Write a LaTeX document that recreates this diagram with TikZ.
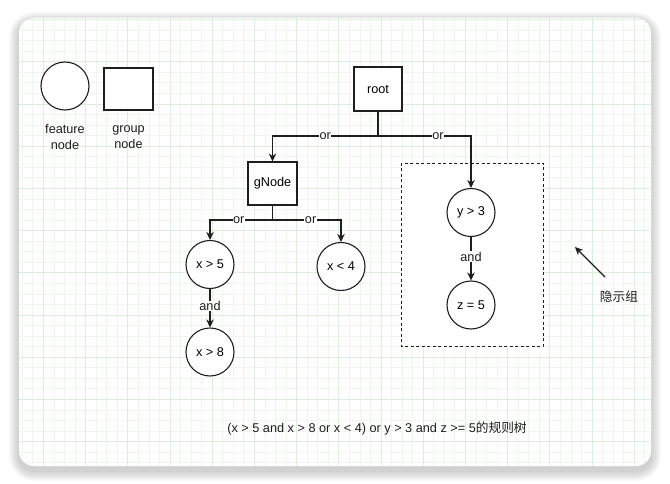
\documentclass[tikz,border=0pt]{standalone}
\usepackage{fontspec}
\setmainfont{Liberation Sans}
\newfontfamily\cjk{Noto Sans CJK SC}
\usetikzlibrary{arrows.meta}
\definecolor{gridminor}{RGB}{238,246,238}
\definecolor{gridmajor}{RGB}{222,238,222}
\definecolor{ink}{RGB}{30,30,30}
\tikzset{
  feat/.style={circle, draw=ink, line width=1.1pt, fill=white, minimum size=48pt, inner sep=0pt, font=\fontsize{12.7}{16}\selectfont},
  grp/.style={rectangle, draw=ink, line width=1.1pt, fill=white, minimum width=48pt, minimum height=44pt, inner sep=0pt, font=\fontsize{12.7}{16}\selectfont},
  edge/.style={draw=ink, line width=1.1pt, -{Stealth[length=8pt,width=7.5pt]}},
  elabel/.style={fill=white, inner sep=0.5pt, font=\fontsize{12.7}{16}\selectfont, text=ink},
  txt/.style={font=\fontsize{12.7}{16}\selectfont, text=ink, align=center},
}
\begin{document}
\begin{tikzpicture}[x=1pt,y=-1pt]
\useasboundingbox (0,0) rectangle (670,484);
% shadow
\foreach \i in {1,...,10} {
  \fill[black, opacity=0.018, rounded corners={15+\i}] ({19-\i},{18-\i+4}) rectangle ({651+\i},{466+\i+5});
}
\fill[white, rounded corners=15] (19,18) rectangle (651,466);
\begin{scope}
\clip[rounded corners=15] (19,18) rectangle (651,466);
\foreach \i in {0,...,64} {
  \draw[gridminor, line width=0.6pt] ({1.1+\i*10.55},0) -- ({1.1+\i*10.55},484);
}
\foreach \i in {-2,...,45} {
  \draw[gridminor, line width=0.6pt] (0,{19.5+\i*10.55}) -- (670,{19.5+\i*10.55});
}
\foreach \i in {0,...,16} {
  \draw[gridmajor, line width=0.6pt] ({1.1+\i*42.2},0) -- ({1.1+\i*42.2},484);
}
\foreach \i in {-1,...,11} {
  \draw[gridmajor, line width=0.6pt] (0,{19.5+\i*42.2}) -- (670,{19.5+\i*42.2});
}
\end{scope}

% legend
\node[feat] (lf) at (65,86) {};
\node[grp, minimum height=42pt, minimum width=49pt] (lg) at (128.5,89) {};
\node[txt] (lft) at (65,137) {feature\\node};
\node[txt] (lgt) at (128.5,137) {group\\node};

% hidden group box
\draw[ink, line width=0.9pt, dash pattern=on 3pt off 2.5pt, fill=white] (401,163) rectangle (543,346);

% nodes
\node[grp] (root) at (378,89) {root};
\node[grp, minimum width=49pt, minimum height=43pt] (gn) at (272.5,183.5) {gNode};
\node[feat] (x5) at (210,264.5) {x > 5};
\node[feat] (x4) at (341,266.5) {x < 4};
\node[feat] (x8) at (210,352) {x > 8};
\node[feat] (y3) at (471,212.5) {y > 3};
\node[feat] (z5) at (471,305) {z = 5};

% connectors
\coordinate (rj) at (378,136);
\coordinate (gj) at (272.5,220);
\draw[edge] (root.south) -- (rj) -| node[elabel, pos=0.25] {or} (gn.north);
\draw[edge] (root.south) -- (rj) -| node[elabel, pos=0.323] {or} (y3.north);
\draw[edge] (gn.south) -- (gj) -| node[elabel, pos=0.27] {or} (x5.north);
\draw[edge] (gn.south) -- (gj) -| node[elabel, pos=0.278] {or} (x4.north);
\draw[edge] (x5) -- node[elabel, pos=0.45] {and} (x8);
\draw[edge] (y3) -- node[elabel, pos=0.45] {and} (z5);

% annotation
\node[txt] (hint) at (619,297) {\cjk 隐示组};
\coordinate (ha) at (605,277);
\coordinate (hb) at (575,247);
\draw[edge] (ha) -- (hb);

\node[txt] (cap) at (377,428) {(x > 5 and x > 8 or x < 4) or y > 3 and z >= 5{\cjk 的规则树}};
\end{tikzpicture}
\end{document}
